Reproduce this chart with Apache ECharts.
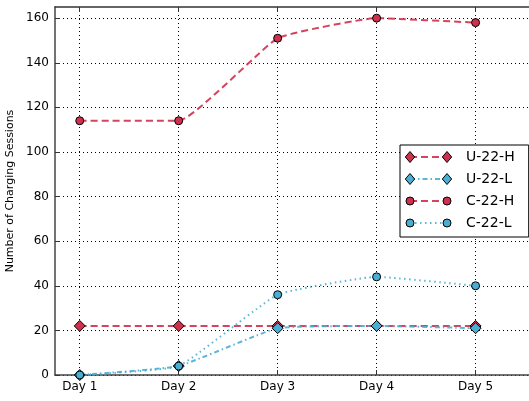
<!DOCTYPE html>
<html><head><meta charset="utf-8">
<script src="https://cdn.jsdelivr.net/npm/echarts@6/dist/echarts.min.js"></script>
<style>html,body{margin:0;padding:0;background:#fff}#c{width:529px;height:401px}</style>
</head><body><div id="c"></div>
<script>
const categories = ['Day 1','Day 2','Day 3','Day 4','Day 5'];
const xPositions = [1,2,3,4,5];
const u22H = [22,22,22,22,22];
const u22L = [0,4,21,22,21];
const c22H = [114,114,151,160,158];
const c22L = [0,4,36,44,40];
const yTicks = [0,20,40,60,80,100,120,140,160];
const seriesNames = ['U-22-H','U-22-L','C-22-H','C-22-L'];
const RED = '#d0304c', BLUE = '#4aaed4';
const FONT = 'DejaVu Sans';
const styles = [
  {color:RED, symbol:'diamond', size:11, dash:[7,4]},
  {color:BLUE, symbol:'diamond', size:11, dash:[5,3,1.5,3]},
  {color:RED, symbol:'circle', size:8, dash:[7,4]},
  {color:BLUE, symbol:'circle', size:8, dash:[1.5,3.5]}
];
const dataSets = [u22H, u22L, c22H, c22L];
function pts(v){ return v.map((y,i)=>[xPositions[i], y]); }
const chart = echarts.init(document.getElementById('c'));
const gridLine = {show:true, lineStyle:{color:'#000', type:[1,3], width:1}};

// legend icons (matplotlib style: marker - line - marker)
const legendGraphics = [];
styles.forEach((s,i)=>{
  const y = 157 + 22*i, x1 = 410, x2 = 447;
  legendGraphics.push({type:'line', shape:{x1:x1, y1:y, x2:x2, y2:y},
    style:{stroke:s.color, lineWidth:2, lineDash:s.dash, opacity:0.9}, z:100});
  [x1,x2].forEach(x=>{
    if (s.symbol==='diamond') {
      const h = s.size/2;
      legendGraphics.push({type:'polygon', shape:{points:[[x,y-h],[x+h*0.85,y],[x,y+h],[x-h*0.85,y]]},
        style:{fill:s.color, stroke:'#000', lineWidth:1}, z:101});
    } else {
      legendGraphics.push({type:'circle', shape:{cx:x, cy:y, r:s.size/2},
        style:{fill:s.color, stroke:'#000', lineWidth:1}, z:101});
    }
  });
});

chart.setOption({
  animation:false,
  grid:{left:55, right:0, top:7, bottom:26, containLabel:false, outerBoundsMode:'none'},
  xAxis:[{
    type:'value', min:0.75, max:5.54, position:'bottom',
    axisLine:{show:true, onZero:false, lineStyle:{color:'#444', width:1.5}},
    axisTick:{show:true, inside:true, length:5, customValues:xPositions, lineStyle:{color:'#333'}},
    axisLabel:{customValues:xPositions, formatter:v=>categories[Math.round(v)-1], color:'#000', fontSize:12, fontFamily:FONT, margin:6},
    splitLine:gridLine
  },{
    type:'value', min:0.75, max:5.54, position:'top',
    axisLine:{show:true, onZero:false, lineStyle:{color:'#333', width:1.5}},
    axisTick:{show:true, inside:true, length:5, customValues:xPositions, lineStyle:{color:'#333'}},
    axisLabel:{show:false}, splitLine:{show:false}
  }],
  yAxis:{
    type:'value', min:0, max:165,
    name:'Number of Charging Sessions', nameLocation:'middle', nameGap:34,
    nameTextStyle:{fontSize:11, fontFamily:FONT, color:'#000'},
    axisLine:{show:true, onZero:false, lineStyle:{color:'#444', width:1.5}},
    axisTick:{show:true, inside:true, length:5, customValues:yTicks, lineStyle:{color:'#333'}},
    axisLabel:{customValues:yTicks, color:'#000', fontSize:12, fontFamily:FONT, margin:6},
    splitLine:gridLine
  },
  legend:{
    orient:'vertical', left:400, top:145, padding:[5,14,7,5], itemGap:8,
    itemWidth:55, itemHeight:14,
    backgroundColor:'#fff', borderColor:'#000', borderWidth:1, borderRadius:0,
    itemStyle:{opacity:0}, lineStyle:{opacity:0},
    textStyle:{fontSize:14, lineHeight:14, fontFamily:FONT, color:'#000'},
    data:seriesNames
  },
  graphic:legendGraphics,
  series:dataSets.map((d,i)=>({
    name:seriesNames[i], type:'line', data:pts(d), smooth:0.12,
    symbol:styles[i].symbol, symbolSize:styles[i].size,
    itemStyle:{color:styles[i].color, borderColor:'#000', borderWidth:1},
    lineStyle:{color:styles[i].color, width:2, type:styles[i].dash, opacity:0.9}
  }))
});
</script></body></html>
